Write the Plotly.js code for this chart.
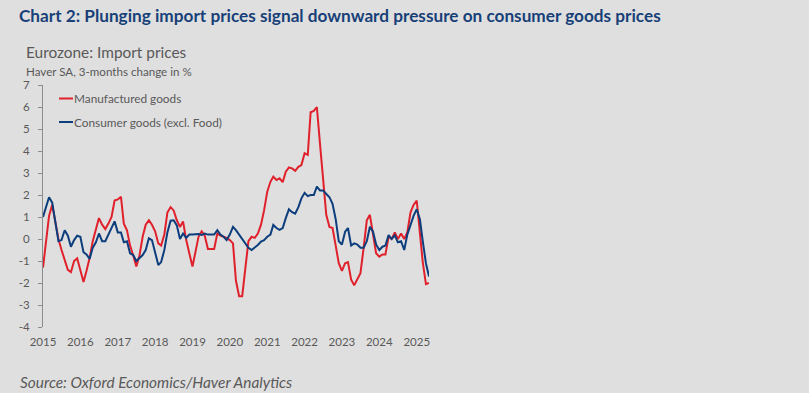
<!DOCTYPE html>
<html>
<head>
<meta charset="utf-8">
<script src="https://cdn.plot.ly/plotly-3.0.1.min.js"></script>
<style>
  html, body { margin: 0; padding: 0; background: #dfdfdf; }
  #chart { width: 809px; height: 393px; }
</style>
</head>
<body>
<div id="chart"></div>
<script>
// Monthly data, Jan 2015 – May 2025 (3-month % change, Haver SA)
const startYear = 2015;
const manufacturedGoods = [
  -1.3, 0.0, 1.05, 1.55, 0.7, 0.0, -0.5, -1.0, -1.4, -1.5, -1.0, -0.88,
  -1.4, -1.95, -1.45, -0.85, -0.1, 0.5, 0.95, 0.65, 0.45, 0.7, 1.0, 1.75,
  1.8, 1.92, 0.7, 0.4, -0.3, -0.75, -1.25, -0.75, 0.1, 0.65, 0.85, 0.65,
  0.35, -0.2, -0.3, 0.2, 1.2, 1.45, 1.3, 0.85, 0.55, 0.8, -0.05, -0.65,
  -1.25, -0.55, 0.1, 0.35, 0.15, -0.45, -0.45, -0.45, 0.25, 0.15, 0.1, 0.05,
  -0.05, -0.2, -1.9, -2.6, -2.6, -1.2, -0.1, 0.1, 0.05, 0.25, 0.65, 1.3,
  2.15, 2.6, 2.83, 2.68, 2.76, 2.58, 3.06, 3.25, 3.21, 3.1, 3.28, 3.36,
  3.9, 3.82, 5.76, 5.82, 6.0, 4.3, 2.6, 1.1, 0.55, 0.5, -0.3, -1.1,
  -1.45, -1.1, -1.05, -1.85, -2.1, -1.85, -1.55, -0.4, 0.85, 1.1, 0.2, -0.65,
  -0.8, -0.7, -0.7, 0.1, 0.0, 0.3, 0.0, 0.25, 0.0, 0.3, 1.2, 1.55,
  1.75, 0.2, -1.05, -2.05, -2.0
];
const consumerGoods = [
  1.0, 1.45, 1.9, 1.65, 0.7, -0.1, -0.05, 0.4, 0.15, -0.35, -0.05, 0.15,
  0.1, -0.6, -0.7, -0.9, -0.4, -0.15, 0.25, -0.1, -0.1, 0.2, 0.55, 0.8,
  0.3, 0.3, -0.15, -0.1, -0.65, -0.73, -1.0, -0.88, -0.73, -0.5, 0.03, -0.05,
  -0.65, -1.18, -1.05, -0.5, 0.3, 0.83, 0.85, 0.62, 0.0, 0.25, 0.05, 0.2,
  0.2, 0.2, 0.23, 0.18, 0.25, 0.2, 0.2, 0.2, 0.4, 0.2, 0.1, -0.05,
  0.2, 0.55, 0.4, 0.2, -0.05, -0.25, -0.4, -0.5, -0.4, -0.27, -0.12, -0.05,
  0.1, 0.2, 0.64, 0.5, 0.42, 0.5, 0.95, 1.35, 1.22, 1.15, 1.45, 1.85,
  2.1, 1.95, 2.0, 2.0, 2.38, 2.2, 2.2, 2.05, 1.9, 1.6, 0.9, -0.1,
  -0.25, 0.33, 0.5, -0.3, -0.2, -0.25, -0.4, -0.4, -0.1, 0.56, 0.33, -0.25,
  -0.5, -0.35, -0.3, 0.18, 0.0, 0.17, -0.15, -0.1, -0.5, 0.2, 0.65, 1.05,
  1.35, 0.9, -0.1, -1.1, -1.7
];
const seriesNames = ['Manufactured goods', 'Consumer goods (excl. Food)'];
const seriesColors = ['#e0202b', '#0c3d7c'];
const yTicks = [-4, -3, -2, -1, 0, 1, 2, 3, 4, 5, 6, 7];

const dates = manufacturedGoods.map((_, i) => {
  const y = startYear + Math.floor(i / 12);
  const m = (i % 12) + 1;
  return y + '-' + String(m).padStart(2, '0') + '-01';
});

const FONT = 'Lato, "Open Sans", sans-serif';
const GREY = '#595959';
const AXIS = '#8c8c8c';

const traces = [
  { x: dates, y: manufacturedGoods, name: seriesNames[0], type: 'scatter', mode: 'lines',
    line: { color: seriesColors[0], width: 2 }, showlegend: false },
  { x: dates, y: consumerGoods, name: seriesNames[1], type: 'scatter', mode: 'lines',
    line: { color: seriesColors[1], width: 2 }, showlegend: false }
];

// plot area in px: left 43, right 429, top 85, bottom 327
const L = 43, R = 429, T = 85, B = 327;
const px = v => (v - L) / (R - L);
const py = v => (B - v) / (B - T);

const layout = {
  width: 809, height: 393,
  paper_bgcolor: '#dfdfdf', plot_bgcolor: '#dfdfdf',
  margin: { l: L, r: 809 - R, t: T, b: 393 - B, pad: 0 },
  font: { family: FONT, color: GREY },
  title: {
    text: 'Chart 2: Plunging import prices signal downward pressure on consumer goods prices',
    font: { family: FONT, size: 17.2, color: '#183f78', weight: 700 },
    x: 19 / 809, xanchor: 'left', xref: 'container',
    y: 1 - 16 / 393, yanchor: 'middle', yref: 'container'
  },
  xaxis: {
    type: 'date', range: ['2015-01-01', '2025-05-01'],
    tick0: '2015-01-01', dtick: 'M12', tickformat: '%Y',
    showgrid: false, zeroline: false, showline: false, ticks: '',
    tickfont: { family: FONT, size: 11.5, color: GREY },
    ticklabelstandoff: 6, fixedrange: true
  },
  xaxis2: {
    type: 'date', range: ['2015-01-01', '2025-05-01'], overlaying: 'x',
    anchor: 'free', position: 4 / 11,
    tick0: '2015-01-01', dtick: 'M12',
    showgrid: false, zeroline: false, showline: true, linecolor: AXIS, linewidth: 1,
    ticks: 'outside', ticklen: 3, tickcolor: AXIS, tickwidth: 1,
    showticklabels: false
  },
  yaxis: {
    range: [-4, 7], tickvals: yTicks, ticktext: yTicks.map(String),
    showgrid: false, zeroline: false, showline: true, linecolor: AXIS, linewidth: 1,
    ticks: 'outside', ticklen: 4, tickcolor: AXIS,
    tickfont: { family: FONT, size: 11.5, color: GREY },
    ticklabelstandoff: 6, fixedrange: true
  },
  shapes: [
    { type: 'line', xref: 'paper', yref: 'paper', x0: px(59), x1: px(73), y0: py(98.5), y1: py(98.5),
      line: { color: seriesColors[0], width: 2 } },
    { type: 'line', xref: 'paper', yref: 'paper', x0: px(59), x1: px(73), y0: py(122), y1: py(122),
      line: { color: seriesColors[1], width: 2 } }
  ],
  annotations: [
    { text: 'Eurozone: Import prices', xref: 'paper', yref: 'paper', x: px(24), y: py(52),
      xanchor: 'left', yanchor: 'middle', showarrow: false,
      font: { family: FONT, size: 15.4, color: GREY } },
    { text: 'Haver SA, 3-months change in %', xref: 'paper', yref: 'paper', x: px(24), y: py(71),
      xanchor: 'left', yanchor: 'middle', showarrow: false,
      font: { family: FONT, size: 11.6, color: GREY } },
    { text: seriesNames[0], xref: 'paper', yref: 'paper', x: px(72), y: py(98.5),
      xanchor: 'left', yanchor: 'middle', showarrow: false,
      font: { family: FONT, size: 11.8, color: GREY } },
    { text: seriesNames[1], xref: 'paper', yref: 'paper', x: px(72), y: py(122),
      xanchor: 'left', yanchor: 'middle', showarrow: false,
      font: { family: FONT, size: 11.8, color: GREY } },
    { text: '<i>Source: Oxford Economics/Haver Analytics</i>', xref: 'paper', yref: 'paper',
      x: px(18), y: py(382), xanchor: 'left', yanchor: 'middle', showarrow: false,
      font: { family: FONT, size: 15.4, color: GREY } }
  ]
};

Plotly.newPlot('chart', traces, layout, { staticPlot: true, displayModeBar: false });
</script>
</body>
</html>
